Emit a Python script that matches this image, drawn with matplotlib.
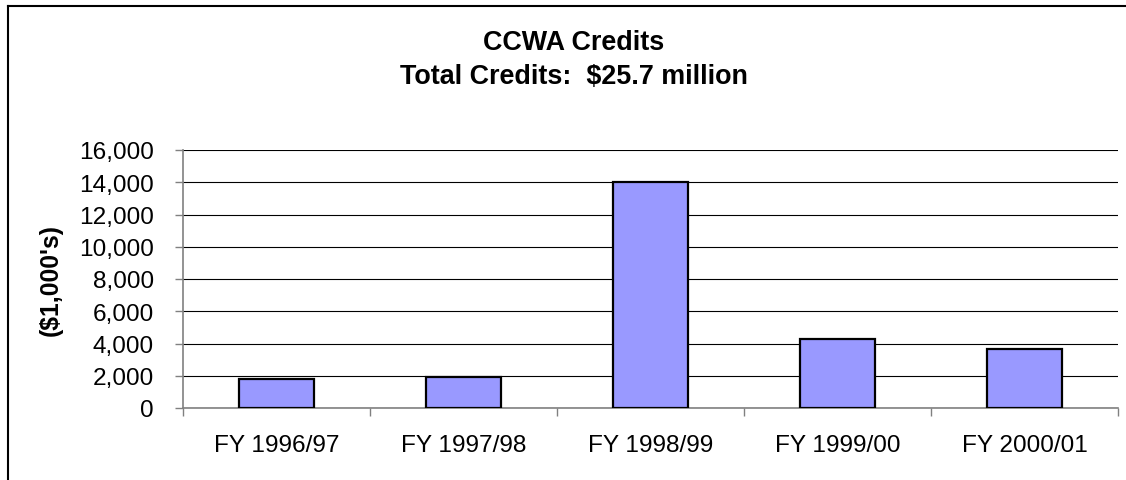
import matplotlib.pyplot as plt
import numpy as np
from matplotlib.lines import Line2D
from matplotlib.ticker import FuncFormatter

plt.rcParams['font.family'] = ['Liberation Sans', 'DejaVu Sans']

years = ['FY 1996/97', 'FY 1997/98', 'FY 1998/99', 'FY 1999/00', 'FY 2000/01']
credits = [1800, 1950, 14000, 4300, 3650]
yticks = [0, 2000, 4000, 6000, 8000, 10000, 12000, 14000, 16000]

W, H = 1126, 481
fig = plt.figure(figsize=(W / 100, H / 100), dpi=100)
ax = fig.add_axes([183 / W, 1 - 409 / H, (1118 - 183) / W, (409 - 151) / H])

x = np.arange(len(years))
ax.bar(x, credits, width=0.4, color='#9999FF', edgecolor='black', linewidth=1.6, zorder=3)

ax.set_xlim(-0.5, len(years) - 0.5)
ax.set_ylim(0, 16000)
ax.set_yticks(yticks)
ax.yaxis.set_major_formatter(FuncFormatter(lambda v, p: f'{int(v):,}'))
ax.grid(axis='y', color='black', linewidth=0.8, zorder=0)

# category labels centred, tick marks at category boundaries
ax.set_xticks(x)
ax.set_xticklabels(years)
ax.set_xticks(np.arange(len(years) + 1) - 0.5, minor=True)
ax.tick_params(axis='x', which='major', length=0, pad=19, labelsize=17.6)
ax.tick_params(axis='x', which='minor', length=6, width=1, color='#808080')
ax.tick_params(axis='y', length=6, width=1, color='#808080', pad=15, labelsize=17.6)

for s in ['top', 'right']:
    ax.spines[s].set_visible(False)
for s in ['left', 'bottom']:
    ax.spines[s].set_color('#808080')
    ax.spines[s].set_linewidth(1.2)

ax.set_ylabel("($1,000's)", fontsize=17.8, fontweight='bold', labelpad=12)

fig.text(574 / W, 1 - 50 / H, 'CCWA Credits', ha='center', va='baseline',
         fontsize=19.4, fontweight='bold')
fig.text(574 / W, 1 - 84 / H, 'Total Credits:  $25.7 million', ha='center', va='baseline',
         fontsize=19.4, fontweight='bold')

# chart area border (only top and left visible)
fig.add_artist(Line2D([8 / W, 1], [1 - 7 / H, 1 - 7 / H], color='black', linewidth=1.5))
fig.add_artist(Line2D([8 / W, 8 / W], [0, 1 - 7 / H], color='black', linewidth=1.5))

fig.savefig('out.png', dpi=100)
